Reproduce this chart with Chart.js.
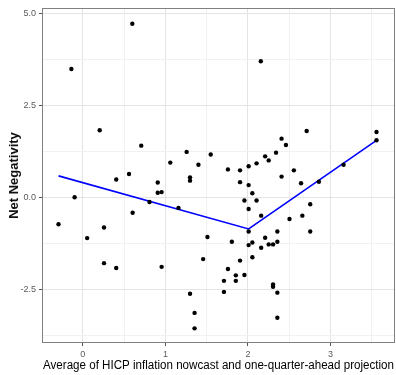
<!DOCTYPE html>
<html lang="en">
  <head>
    <meta charset="UTF-8" />
    <title>Net Negativity vs HICP inflation</title>
    <style>
      body {
        margin: 0;
        padding: 0;
        background: #fff;
        overflow: hidden;
      }
      .chart-box {
        width: 398px;
        height: 375px;
      }
    </style>
  </head>
  <body>
    <div class="chart-box">
      <canvas id="scatterChart"></canvas>
    </div>

    <script src="https://cdn.jsdelivr.net/npm/chart.js"></script>
    <script>
      // observations (x = HICP nowcast/projection avg, y = net negativity)
      const pointX = [
        -0.295, -0.139, -0.1, 0.052, 0.204, 0.256, 0.256, 0.404, 0.404, 0.559,
        0.599, 0.603, 0.707, 0.807, 0.907, 0.907, 0.954, 0.954, 1.059, 1.158,
        1.257, 1.298, 1.298, 1.298, 1.353, 1.353, 1.4, 1.457, 1.509, 1.549,
        1.709, 1.709, 1.757, 1.757, 1.805, 1.853, 1.853, 1.904, 1.904, 1.904,
        1.957, 1.957, 2.008, 2.008, 2.008, 2.008, 2.008, 2.053, 2.053, 2.053,
        2.104, 2.104, 2.156, 2.16, 2.16, 2.208, 2.208, 2.251, 2.251, 2.304,
        2.304, 2.304, 2.34, 2.356, 2.356, 2.356, 2.356, 2.407, 2.407, 2.46,
        2.503, 2.556, 2.643, 2.659, 2.711, 2.754, 2.754, 2.859, 3.158, 3.557,
        3.557,
      ];
      const pointY = [
        -0.735, 3.48, 0.0, -1.11, 1.82, -0.82, -1.79, 0.48, -1.92, 0.63,
        4.71, -0.42, 1.4, -0.13, 0.4, 0.12, 0.14, -1.89, 0.94, -0.29,
        1.23, 0.54, 0.45, -2.62, -3.14, -3.56, 0.88, -1.68, -1.08, 1.16,
        -2.27, -2.57, 0.755, -1.95, -1.21, -2.12, -2.27, 0.73, 0.41, -1.72,
        -0.09, -2.11, 0.84, 0.33, -0.32, -0.93, -1.3, 0.11, -1.23, -1.63,
        0.92, -0.09, 3.69, -0.5, -1.37, 1.11, -1.1, 1.0, -1.28, -1.28,
        -2.37, -2.43, 1.21, -0.93, -1.21, -2.59, -3.27, 1.59, 0.56, 1.42,
        -0.59, 0.73, 0.38, -0.5, 1.8, -0.19, -0.93, 0.42, 0.88, 1.77,
        1.545,
      ];

      // piecewise fit, break at 2
      const fitX = [-0.295, 2.008, 3.557];
      const fitY = [0.58, -0.86, 1.545];

      const xTicks = [0, 0.5, 1, 1.5, 2, 2.5, 3, 3.5];
      const yTicks = [-3.75, -2.5, -1.25, 0, 1.25, 2.5, 3.75, 5];

      const font = "'Liberation Sans', Arial, sans-serif";

      const isMajor = (v, step) => Math.abs(v / step - Math.round(v / step)) < 1e-6;

      const panelBorder = {
        id: "panelBorder",
        afterDraw(chart) {
          const { ctx, chartArea } = chart;
          ctx.save();
          ctx.strokeStyle = "#808080";
          ctx.lineWidth = 1;
          ctx.strokeRect(
            chartArea.left - 0.5,
            chartArea.top - 0.5,
            chartArea.right - chartArea.left + 1,
            chartArea.bottom - chartArea.top + 1
          );
          ctx.restore();
        },
      };

      new Chart(document.getElementById("scatterChart"), {
        type: "scatter",
        data: {
          datasets: [
            {
              label: "obs",
              data: pointX.map((x, i) => ({ x: x, y: pointY[i] })),
              backgroundColor: "#000",
              borderColor: "#000",
              pointRadius: 2.2,
              borderWidth: 0,
            },
            {
              label: "fit",
              type: "line",
              data: fitX.map((x, i) => ({ x: x, y: fitY[i] })),
              borderColor: "#0000ff",
              borderWidth: 1.6,
              pointRadius: 0,
              fill: false,
              tension: 0,
            },
          ],
        },
        options: {
          responsive: true,
          maintainAspectRatio: false,
          animation: false,
          layout: { padding: { top: 9, right: 0, bottom: 0, left: 0 } },
          plugins: {
            legend: { display: false },
            tooltip: { enabled: false },
          },
          scales: {
            x: {
              type: "linear",
              min: -0.483,
              max: 3.769,
              afterBuildTicks: (s) => {
                s.ticks = xTicks.map((v) => ({ value: v }));
              },
              afterFit: (s) => {
                s.height = 33;
              },
              border: { display: false },
              grid: {
                color: (c) => (isMajor(c.tick.value, 1) ? "#e4e4e4" : "#f1f1f1"),
                tickColor: (c) => (isMajor(c.tick.value, 1) ? "#555" : "rgba(0,0,0,0)"),
                tickLength: 4,
              },
              ticks: {
                padding: 3,
                maxRotation: 0,
                autoSkip: false,
                color: "#5a5a5a",
                font: { family: font, size: 9 },
                callback: (v) => (isMajor(v, 1) ? String(v) : ""),
              },
              title: {
                display: true,
                text: "Average of HICP inflation nowcast and one-quarter-ahead projection",
                color: "#000",
                font: { family: font, size: 12 },
                padding: { top: 0, bottom: 2 },
              },
            },
            y: {
              type: "linear",
              min: -3.93,
              max: 5.11,
              afterBuildTicks: (s) => {
                s.ticks = yTicks.map((v) => ({ value: v }));
              },
              afterFit: (s) => {
                s.width = 43;
              },
              border: { display: false },
              grid: {
                color: (c) => (isMajor(c.tick.value, 2.5) ? "#e4e4e4" : "#f1f1f1"),
                tickColor: (c) => (isMajor(c.tick.value, 2.5) ? "#555" : "rgba(0,0,0,0)"),
                tickLength: 4,
              },
              ticks: {
                padding: 3,
                autoSkip: false,
                color: "#5a5a5a",
                font: { family: font, size: 9 },
                callback: (v) => (isMajor(v, 2.5) ? v.toFixed(1) : ""),
              },
              title: {
                display: true,
                text: "Net Negativity",
                color: "#111",
                font: { family: font, size: 13, weight: "bold" },
                padding: { top: 7, bottom: 0 },
              },
            },
          },
        },
        plugins: [panelBorder],
      });
    </script>
  </body>
</html>
